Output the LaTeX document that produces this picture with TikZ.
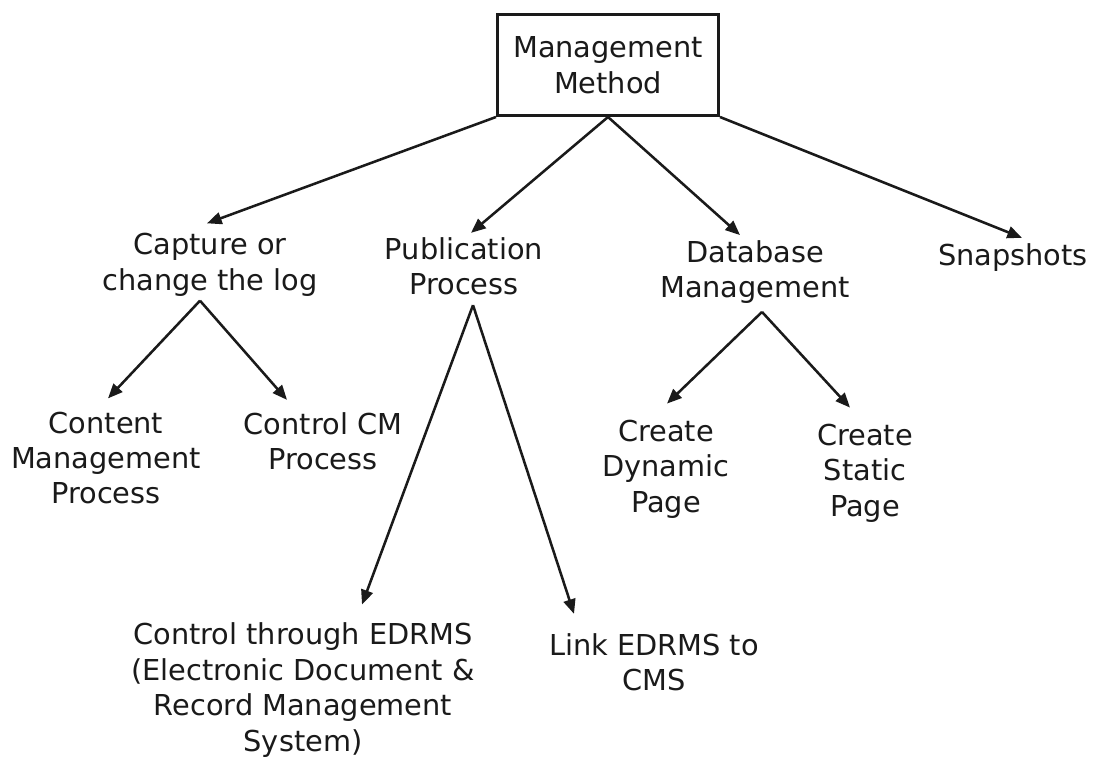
\documentclass[tikz,border=0pt]{standalone}
\usepackage{fontspec}
\setmainfont{DejaVu Sans}
\usepackage{xcolor}
\definecolor{cInk}{HTML}{1A1A1A}
\definecolor{cPaper}{HTML}{FFFFFF}
\usepackage{tikz}
\usetikzlibrary{positioning,arrows.meta,calc}
\tikzset{
  node-box/.style={draw=cInk,line width=2pt,minimum width=166pt,
    minimum height=76pt,align=center,text=cInk,
    font=\fontsize{21.6}{26.6}\selectfont},
  node-text/.style={align=center,inner sep=3pt,text=cInk,
    font=\fontsize{21.6}{26.6}\selectfont},
  arrow/.style={-{Triangle[length=11pt,width=9pt]},line width=1.9pt,draw=cInk},
}

\begin{document}
\begin{tikzpicture}[x=0.75pt,y=-0.75pt]
  \fill[cPaper] (0,0) rectangle (1094,760);
  \useasboundingbox (0,0) rectangle (1094,760);
  % root
  \node[node-box] (mm) at (608,65) {Management\\Method};
  % first level
  \node[node-text] (cap)  at (210,265)  {Capture or\\change the log};
  \node[node-text] (pub)  at (464,266)  {Publication\\Process};
  \node[node-text] (db)   at (755,272)  {Database\\Management};
  \node[node-text] (snap) at (1013,258) {Snapshots};
  % second level
  \node[node-text] (cmp)  at (106,458) {Content\\Management\\Process};
  \node[node-text] (cm)   at (323,441) {Control CM\\Process};
  \node[node-text] (dyn)  at (666,469) {Create\\Dynamic\\Page};
  \node[node-text] (stat) at (865,473) {Create\\Static\\Page};
  \node[node-text] (edrms) at (303,690)
    {Control through EDRMS\\(Electronic Document \&\\Record Management\\System)};
  \node[node-text] (link) at (654,662) {Link EDRMS to\\CMS};
  \draw[arrow] (mm.south west) -- ($(cap.north)+(-3,-6)$);
  \draw[arrow] (mm.south) -- ($(pub.north)+(7,0)$);
  \draw[arrow] (mm.south) -- ($(db.north)+(-15,-1)$);
  \draw[arrow] (mm.south east) -- ($(snap.north)+(9,-2)$);
  \draw[arrow] ($(cap.south)+(-10,0)$) -- ($(cmp.north)+(2,-9)$);
  \draw[arrow] ($(cap.south)+(-10,0)$) -- ($(cm.north)+(-36,-8)$);
  \draw[arrow] ($(pub.south)+(9,6)$) -- ($(edrms.north)+(59,-14)$);
  \draw[arrow] ($(pub.south)+(9,6)$) -- ($(link.north)+(-80,-15)$);
  \draw[arrow] ($(db.south)+(7,4)$) -- ($(dyn.north)+(1,-12)$);
  \draw[arrow] ($(db.south)+(7,4)$) -- ($(stat.north)+(-15,-12)$);
\end{tikzpicture}
\end{document}
